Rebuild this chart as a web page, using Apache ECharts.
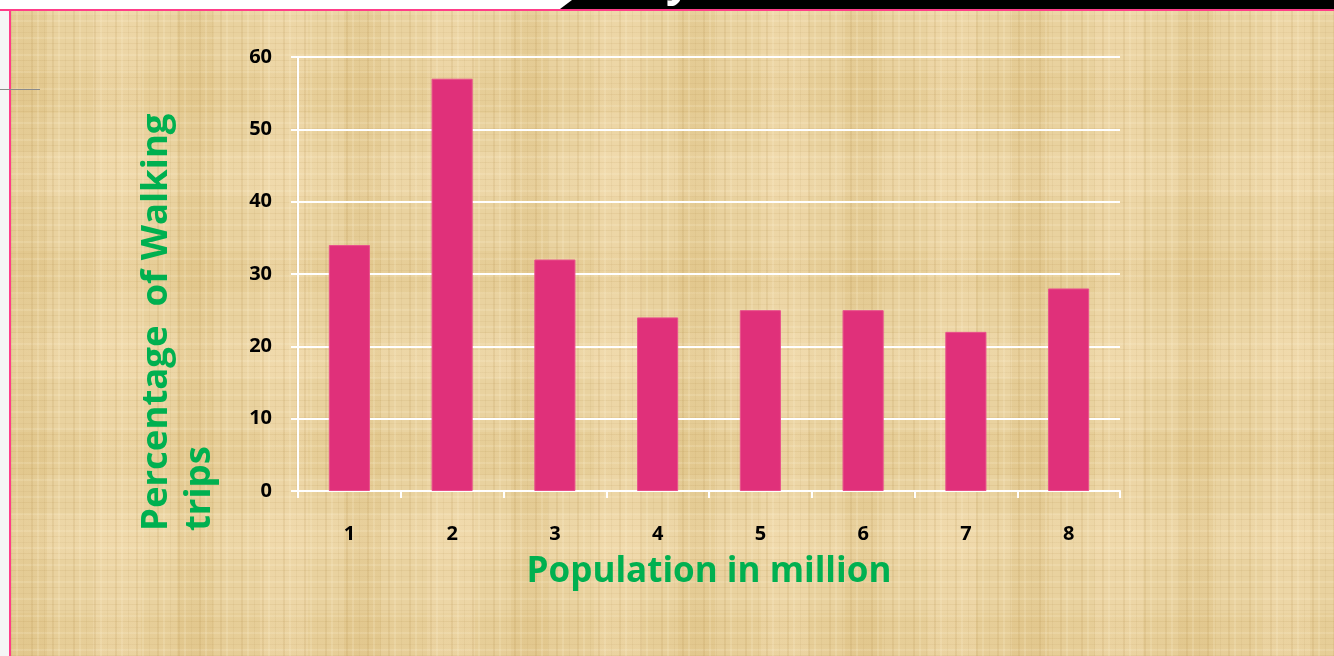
<!DOCTYPE html>
<html>
<head>
<meta charset="utf-8">
<script src="https://cdn.jsdelivr.net/npm/echarts@6/dist/echarts.min.js"></script>
<style>
  html, body { margin: 0; padding: 0; width: 1334px; height: 656px; overflow: hidden; background: #f5f5f5; }
  #paper {
    position: absolute; left: 10px; top: 10px; right: 0; bottom: 0;
    background-color: #e9d29f;
    background-image:
      repeating-linear-gradient(90deg, rgba(170,130,60,0.13) 0 2px, transparent 2px 6px, rgba(255,244,214,0.18) 6px 8px, transparent 8px 13px, rgba(160,125,60,0.08) 13px 14px, transparent 14px 21px),
      repeating-linear-gradient(0deg, rgba(165,125,55,0.10) 0 1px, transparent 1px 5px, rgba(255,246,220,0.16) 5px 7px, transparent 7px 11px, rgba(160,120,60,0.07) 11px 12px, transparent 12px 17px),
      repeating-linear-gradient(90deg, rgba(205,170,95,0.16) 0 37px, transparent 37px 83px, rgba(250,228,190,0.22) 83px 131px, transparent 131px 167px),
      repeating-linear-gradient(0deg, rgba(215,180,105,0.14) 0 43px, transparent 43px 97px, rgba(252,232,196,0.20) 97px 142px, transparent 142px 181px);
  }
  #chart { position: absolute; left: 0; top: 0; width: 1334px; height: 656px; }
</style>
</head>
<body>
<div id="paper"></div>
<div id="chart"></div>
<script>
// Share of trips made on foot, by city population band
const categories = ['1', '2', '3', '4', '5', '6', '7', '8'];
const walkingShare = [34, 57, 32, 24, 25, 25, 22, 28];
const xTitle = 'Population in million';
const yTitle = 'Percentage  of Walking\ntrips';

const chart = echarts.init(document.getElementById('chart'), null, { renderer: 'canvas' });

const white = '#ffffff';
const green = '#00b050';
const tickFont = { color: '#000', fontFamily: 'Open Sans', fontWeight: 'bold', fontSize: 20 };

chart.setOption({
  backgroundColor: 'transparent',
  animation: false,
  grid: { left: 298, right: 214, top: 57, bottom: 165, containLabel: false },
  xAxis: {
    type: 'category',
    data: categories,
    name: xTitle,
    nameLocation: 'middle',
    nameGap: 64,
    nameTextStyle: { color: green, fontFamily: 'Open Sans', fontWeight: 'bold', fontSize: 35 },
    axisLine: { show: true, lineStyle: { color: white, width: 2 } },
    axisTick: { show: true, alignWithLabel: false, length: 7, lineStyle: { color: white, width: 2 } },
    axisLabel: Object.assign({ margin: 33 }, tickFont),
    splitLine: { show: false }
  },
  yAxis: {
    type: 'value',
    min: 0, max: 60, interval: 10,
    axisLine: { show: true, lineStyle: { color: white, width: 2 } },
    axisTick: { show: true, length: 7, lineStyle: { color: white, width: 2 } },
    axisLabel: Object.assign({ margin: 26 }, tickFont),
    splitLine: { show: true, lineStyle: { color: white, width: 2 } }
  },
  series: [{
    type: 'bar',
    data: walkingShare,
    barWidth: '40%',
    itemStyle: { color: '#e0307a', borderColor: '#e8508c', borderWidth: 1 }
  }],
  graphic: [
    // slide frame: white top strip, dark title banner, pink border
    { type: 'rect', shape: { x: 0, y: 0, width: 1334, height: 9 }, style: { fill: '#ffffff' }, z: 1 },
    { type: 'polygon', shape: { points: [[572, 0], [1334, 0], [1334, 9], [560, 9]] }, style: { fill: '#000000' }, z: 2 },
    { type: 'text', x: 666, y: -40, style: { text: 'y', fill: '#ffffff', font: 'bold 44px "Open Sans"' }, z: 3 },
    { type: 'line', shape: { x1: 0, y1: 10, x2: 1334, y2: 10 }, style: { stroke: '#ff3d88', lineWidth: 2 }, z: 4 },
    { type: 'line', shape: { x1: 10, y1: 10, x2: 10, y2: 656 }, style: { stroke: '#ff3d88', lineWidth: 2 }, z: 4 },
    { type: 'line', shape: { x1: 0, y1: 89.5, x2: 40, y2: 89.5 }, style: { stroke: '#8a8a8a', lineWidth: 1 }, z: 4 },
    // rotated y-axis title, two lines, left-aligned at the bottom
    {
      type: 'text',
      x: 135, y: 531,
      rotation: Math.PI / 2,
      style: {
        text: yTitle,
        fill: green,
        font: 'bold 36.5px "Open Sans"',
        textAlign: 'left',
        textVerticalAlign: 'top',
        lineHeight: 43
      },
      z: 5
    }
  ]
});
</script>
</body>
</html>
